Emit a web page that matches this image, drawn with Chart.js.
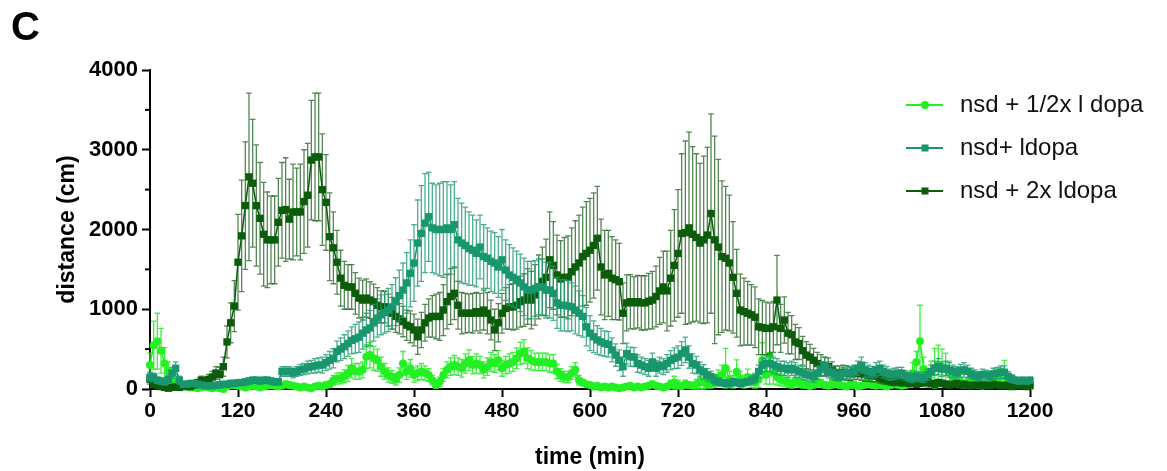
<!DOCTYPE html>
<html lang="en">
<head>
<meta charset="UTF-8">
<title>distance (cm) vs time (min)</title>
<script src="https://cdn.jsdelivr.net/npm/chart.js@4.4.1/dist/chart.umd.min.js"></script>
<style>
  html, body { margin: 0; padding: 0; background: #fff; }
  #wrap { width: 1167px; height: 471px; position: relative; }
</style>
</head>
<body>
<div id="wrap"><canvas id="chart" width="1167" height="471"></canvas></div>
<script>
// sampling every 5 min, 0..1200
var times = [];
for (var t = 0; t <= 1200; t += 5) times.push(t);

var seriesNames = ['nsd + 1/2x l dopa', 'nsd+ ldopa', 'nsd + 2x ldopa'];
var xTicks = [0, 120, 240, 360, 480, 600, 720, 840, 960, 1080, 1200];
var yTicks = [0, 1000, 2000, 3000, 4000];

// nsd + 1/2x l dopa (one row = one hour)
var halfDopa = [
  300,550,600,480,320,220,150,100,60,40,30,20,
  20,10,20,30,20,10,20,10,0,30,60,50,
  40,30,20,30,40,30,20,30,40,50,40,30,
  40,60,50,40,30,20,30,20,10,30,40,30,
  50,60,110,130,135,160,195,260,220,220,240,405,
  425,385,360,280,220,175,150,120,175,320,220,260,
  175,200,220,200,175,110,50,90,175,240,280,300,
  280,260,320,360,300,320,300,240,280,340,320,360,
  260,300,320,340,385,445,470,385,360,340,340,340,
  340,320,320,220,175,150,150,200,240,110,80,60,
  50,30,40,20,30,20,30,20,10,20,30,40,
  20,30,20,30,40,60,40,30,20,30,60,80,
  50,40,60,50,40,60,80,90,60,70,100,140,
  180,260,120,90,215,120,90,150,100,80,120,360,
  180,420,200,150,120,100,80,60,100,80,60,50,
  40,60,80,70,50,40,60,80,50,40,30,60,
  50,30,40,60,80,50,40,60,40,30,50,80,
  60,40,50,100,200,340,600,250,100,200,260,300,
  280,250,200,150,120,100,60,80,100,80,60,40,
  60,80,100,120,150,200,100,60,80,70,60,50,
  60
];
var halfDopaErr = [
  150,300,350,280,200,120,80,60,40,30,20,20,
  20,15,20,20,20,15,20,15,15,30,50,40,
  30,30,25,30,30,30,25,30,30,40,30,30,
  30,40,40,30,30,25,30,25,20,30,30,30,
  40,40,60,70,70,80,100,120,100,100,100,150,
  160,150,140,120,100,90,80,70,90,150,100,110,
  90,90,100,90,80,60,40,60,80,100,110,120,
  110,110,120,130,110,120,110,100,110,120,110,120,
  100,110,120,120,130,140,150,130,120,110,110,110,
  110,110,110,90,80,70,70,80,90,60,40,30,
  30,20,25,20,20,20,20,20,15,20,20,25,
  20,20,20,20,25,40,30,20,20,30,50,80,
  60,40,50,40,30,60,80,90,50,60,80,100,
  120,250,100,80,150,100,80,100,80,70,100,220,
  120,360,140,100,80,70,60,50,70,60,50,40,
  40,50,60,50,40,30,50,60,40,30,30,50,
  40,30,30,50,60,40,30,50,30,30,40,60,
  50,30,40,80,130,130,450,150,80,150,250,250,
  220,200,150,120,100,80,50,60,80,60,50,30,
  50,60,80,90,110,160,80,50,60,50,50,40,
  50
];

// nsd+ ldopa
var ldopa = [
  150,150,110,100,90,120,200,260,110,60,60,70,
  70,60,50,40,40,40,50,50,60,60,70,70,
  80,80,90,100,110,110,100,110,110,100,90,90,
  220,220,220,200,220,240,250,270,280,290,300,300,
  330,360,385,470,500,530,570,610,630,650,700,740,
  765,830,890,930,960,990,1030,1095,1170,1240,1330,1450,
  1580,1830,1950,2080,2160,2020,2000,2000,2000,2020,2000,2060,
  1870,1830,1800,1760,1740,1700,1780,1660,1640,1600,1580,1530,
  1620,1490,1430,1400,1370,1330,1280,1240,1240,1260,1280,1280,
  1240,1240,1200,1080,1050,1050,1040,1030,990,950,910,780,
  700,655,615,590,570,560,490,425,360,280,445,405,
  400,320,300,280,260,340,260,300,280,320,360,385,
  400,445,490,400,320,300,240,215,175,155,110,90,
  80,70,70,90,80,70,80,90,110,135,220,300,
  320,320,300,280,260,260,240,260,240,220,200,180,
  170,155,200,250,300,220,200,180,170,190,210,200,
  220,260,300,240,220,200,240,260,220,200,180,190,
  200,200,170,150,140,160,150,140,180,220,260,280,
  250,260,240,220,200,230,240,220,190,170,160,180,
  175,160,190,200,210,210,160,130,110,100,110,100,
  110
];
var ldopaErr = [
  60,50,40,40,40,50,70,80,50,30,30,30,
  30,30,25,25,25,25,25,25,30,30,30,30,
  30,30,35,40,40,40,40,40,40,40,40,40,
  60,60,60,60,60,70,70,80,80,90,90,100,
  100,110,120,130,140,150,160,170,180,190,200,210,
  220,230,240,250,260,270,280,300,320,340,380,420,
  480,540,600,620,560,560,560,580,600,580,560,540,
  520,500,480,460,440,420,400,400,380,380,380,380,
  380,380,380,370,360,360,360,360,360,350,350,350,
  350,350,340,320,320,320,320,300,300,280,260,240,
  220,200,180,170,160,160,150,140,130,120,130,120,
  120,110,100,100,100,110,100,100,100,110,120,130,
  140,150,160,140,120,110,100,90,80,70,60,50,
  40,40,40,40,40,40,40,40,50,60,80,90,
  100,100,100,100,90,90,90,90,90,80,80,70,
  70,70,80,90,100,80,80,70,70,80,80,80,
  80,90,100,90,80,80,90,90,80,80,70,70,
  70,70,60,60,60,60,60,60,70,80,90,100,
  90,90,90,80,80,80,90,80,70,70,60,70,
  60,60,70,70,80,80,60,50,40,40,40,40,
  40
];

// nsd + 2x ldopa
var doubleDopa = [
  120,60,40,30,20,10,20,30,20,30,40,30,
  50,80,110,90,120,150,200,180,280,590,830,1040,
  1590,1920,2300,2660,2580,2300,2140,1940,1870,1870,1870,2090,
  2240,2250,2130,2220,2220,2220,2350,2430,2870,2910,2910,2500,
  2340,1910,1770,1590,1390,1300,1280,1280,1200,1140,1115,1140,
  1115,1095,1050,1030,1030,990,950,910,880,845,800,780,
  740,655,740,830,890,910,910,910,990,1095,1160,1200,
  1050,950,950,950,950,970,950,990,950,865,740,830,
  950,1010,1030,1030,1050,1095,1115,1160,1115,1180,1280,1350,
  1400,1620,1550,1430,1380,1400,1400,1470,1530,1580,1660,1700,
  1740,1800,1890,1530,1430,1450,1390,1370,1345,950,1080,1095,
  1080,1095,1080,1080,1100,1115,1160,1230,1280,1230,1390,1550,
  1700,1950,1960,2020,1940,1900,1830,1870,1930,2200,1870,1780,
  1660,1640,1580,1400,1200,990,970,950,930,900,780,770,
  760,760,780,1115,760,865,700,680,590,570,480,425,
  400,360,320,300,280,280,240,200,200,210,200,190,
  200,200,190,180,170,160,160,140,120,110,100,90,
  100,80,90,70,80,60,70,80,100,70,60,80,
  70,60,50,60,70,50,60,50,40,50,60,40,
  50,40,60,50,40,50,40,30,40,50,40,30,
  40
];
var doubleDopaErr = [
  60,40,30,20,20,15,20,20,20,20,25,20,
  30,40,50,50,60,70,80,90,120,200,250,320,
  600,700,800,1050,800,760,700,650,600,550,550,550,
  600,650,500,600,550,600,650,650,750,800,800,700,
  600,550,450,400,350,300,280,280,260,250,250,240,
  230,220,220,200,200,200,200,200,190,190,190,200,
  200,220,220,230,240,260,280,300,320,340,350,330,
  300,260,250,240,250,240,250,250,260,250,260,240,
  250,260,280,290,300,320,330,350,360,380,400,430,
  480,600,550,500,480,500,520,550,580,600,620,650,
  650,660,650,600,560,540,520,500,480,380,350,340,
  330,330,340,340,350,360,380,420,450,500,600,700,
  800,1000,1150,1200,1100,1050,1000,1050,1100,1250,1300,1100,
  950,900,850,700,550,450,420,400,380,380,350,340,
  330,320,320,560,300,290,260,240,220,200,180,170,
  160,150,140,130,120,110,100,90,90,90,90,85,
  85,80,80,80,75,70,70,65,60,55,55,50,
  50,45,45,40,40,40,40,45,50,40,40,40,
  40,40,35,35,35,30,30,30,30,30,30,30,
  30,30,30,30,30,30,30,25,25,25,25,25,
  25
];

var colors = ['#22f022', '#18976f', '#0b5c0b'];
var errColors = ['rgba(40,240,40,0.9)', 'rgba(30,155,112,0.8)', 'rgba(25,95,25,0.75)'];

function points(vals) {
  return times.map(function (t, i) { return { x: t, y: vals[i] }; });
}

var FONT = '"Liberation Sans", Arial, sans-serif';

// draws the error bars under each dataset's own line and markers
var errorBars = {
  id: 'errorBars',
  beforeDatasetDraw: function (chart, args) {
    var ds = chart.data.datasets[args.index];
    var ys = chart.scales.y;
    var ctx = chart.ctx;
    ctx.save();
    ctx.strokeStyle = ds.errColor;
    ctx.lineWidth = 1.3;
    args.meta.data.forEach(function (pt, i) {
      var v = ds.data[i].y, e = ds.errs[i];
      var top = ys.getPixelForValue(v + e);
      var bot = ys.getPixelForValue(Math.max(v - e, 0));
      ctx.beginPath();
      ctx.moveTo(pt.x, top); ctx.lineTo(pt.x, bot);
      ctx.moveTo(pt.x - 2.8, top); ctx.lineTo(pt.x + 2.8, top);
      ctx.moveTo(pt.x - 2.8, bot); ctx.lineTo(pt.x + 2.8, bot);
      ctx.stroke();
    });
    ctx.restore();
  }
};

// panel letter, minor y ticks and the legend
var extras = {
  id: 'extras',
  afterDraw: function (chart) {
    var ctx = chart.ctx;
    var ys = chart.scales.y;
    var left = chart.chartArea.left;
    ctx.save();
    ctx.fillStyle = '#000';
    ctx.font = 'bold 40px ' + FONT;
    ctx.textBaseline = 'alphabetic';
    ctx.fillText('C', 11, 40);

    ctx.strokeStyle = '#000';
    ctx.lineWidth = 2;
    for (var v = 500; v < 4000; v += 1000) {
      var py = ys.getPixelForValue(v);
      ctx.beginPath();
      ctx.moveTo(left - 5, py); ctx.lineTo(left, py);
      ctx.stroke();
    }

    var rows = [105, 148, 191];
    var styles = ['circle', 'rect', 'rect'];
    ctx.font = '24px ' + FONT;
    ctx.textBaseline = 'middle';
    for (var i = 0; i < 3; i++) {
      var y = rows[i];
      ctx.strokeStyle = colors[i];
      ctx.lineWidth = 2;
      ctx.beginPath();
      ctx.moveTo(906, y); ctx.lineTo(943, y);
      ctx.stroke();
      ctx.fillStyle = colors[i];
      if (styles[i] === 'circle') {
        ctx.beginPath(); ctx.arc(925, y, 4, 0, Math.PI * 2); ctx.fill();
      } else {
        ctx.fillRect(921.5, y - 3.5, 7, 7);
      }
      ctx.fillStyle = '#111';
      ctx.fillText(seriesNames[i], 960, y);
    }
    ctx.restore();
  }
};

function makeSet(i, vals, errs, style, radius, order) {
  return {
    label: seriesNames[i],
    data: points(vals),
    errs: errs,
    errColor: errColors[i],
    borderColor: colors[i],
    backgroundColor: colors[i],
    borderWidth: 1.5,
    pointStyle: style,
    pointRadius: radius,
    pointBorderWidth: 0,
    tension: 0,
    clip: false,
    order: order
  };
}

function plain(v) { return String(v); }

new Chart(document.getElementById('chart'), {
  type: 'line',
  data: {
    datasets: [
      makeSet(0, halfDopa, halfDopaErr, 'circle', 4, 3),
      makeSet(1, ldopa, ldopaErr, 'rect', 5.2, 1),
      makeSet(2, doubleDopa, doubleDopaErr, 'rect', 5.2, 2)
    ]
  },
  options: {
    responsive: false,
    animation: false,
    events: [],
    layout: { padding: { top: 70, right: 137, bottom: 0, left: 0 } },
    plugins: { legend: { display: false }, tooltip: { enabled: false } },
    scales: {
      x: {
        type: 'linear',
        min: 0, max: 1200,
        afterFit: function (s) { s.height = 82; },
        afterBuildTicks: function (s) { s.ticks = xTicks.map(function (v) { return { value: v }; }); },
        grid: { drawOnChartArea: false, drawTicks: true, tickLength: 8, tickWidth: 2, tickColor: '#000' },
        border: { color: '#000', width: 2 },
        ticks: { color: '#000', padding: 2, maxRotation: 0, callback: plain,
                 font: { family: FONT, size: 21, weight: 'bold' } },
        title: { display: true, text: 'time (min)', color: '#000', padding: { top: 0, bottom: 0 },
                 font: { family: FONT, size: 23, weight: 'bold' } }
      },
      y: {
        min: 0, max: 4000,
        afterFit: function (s) { s.width = 150; },
        afterBuildTicks: function (s) { s.ticks = yTicks.map(function (v) { return { value: v }; }); },
        grid: { drawOnChartArea: false, drawTicks: true, tickLength: 8, tickWidth: 2, tickColor: '#000' },
        border: { color: '#000', width: 2 },
        ticks: { color: '#000', padding: 4, callback: plain,
                 font: { family: FONT, size: 22, weight: 'bold' } },
        title: { display: true, text: 'distance (cm)', color: '#000', padding: { top: 54, bottom: 0 },
                 font: { family: FONT, size: 23, weight: 'bold' } }
      }
    }
  },
  plugins: [errorBars, extras]
});
</script>
</body>
</html>
